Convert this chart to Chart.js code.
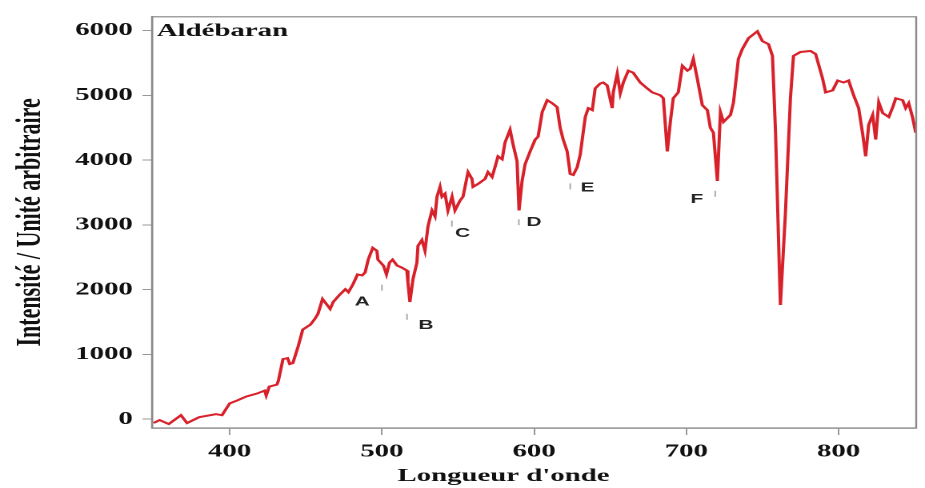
<!DOCTYPE html>
<html>
<head>
<meta charset="utf-8">
<script src="https://cdn.jsdelivr.net/npm/chart.js@4.4.1/dist/chart.umd.min.js"></script>
<style>
  html, body { margin: 0; padding: 0; background: #fff; overflow: hidden; }
  /* the reference picture is stretched sideways, so the chart is drawn narrow and widened */
  #wrap { position: absolute; left: 0; top: 0; width: 578px; height: 488px;
          transform: scaleX(1.6003); transform-origin: 0 0; }
</style>
</head>
<body>
<div id="wrap"><canvas id="spectre"></canvas></div>
<script>
// spectre d'Aldébaran
const wavelength = [350, 354, 360, 368, 372, 380, 391, 395, 400, 405, 411, 418, 423, 424, 426, 431, 432, 435, 438,
  439.5, 441.5, 445, 448, 453, 456, 458, 461, 464, 466, 468, 472, 476, 478, 481, 484, 487, 489, 491, 494, 496.7,
  497.4, 501, 503, 505, 507, 510, 513, 516.4, 517.1, 518.4, 520.4, 523, 523.7, 526.3, 528.3, 530.3, 532.9, 534.9,
  536.2, 538.2, 539.5, 541.5, 543.4, 546.1, 548, 551.3, 553.3, 556.6, 559.2, 559.9, 563.2, 567.8, 569.7, 572.4,
  574.3, 576.3, 579, 580.9, 584.2, 586.2, 588.8, 590.1, 592.1, 594.1, 597.4, 600.7, 602.6, 605.3, 608.6, 611.8,
  615.1, 617.1, 619.1, 621.7, 623.7, 625.7, 628.3, 630.3, 633.6, 635.6, 638.2, 640.1, 643.4, 645.4, 648, 651.3,
  652, 654.6, 656.6, 658.6, 661.9, 665.1, 669.7, 674.3, 677.6, 682.9, 684.9, 687.5, 689.5, 691.4, 694.7, 697.4,
  700.7, 702.6, 704.6, 707.2, 710.5, 713.8, 715.8, 717.8, 720.4, 722.4, 724.4, 729, 731, 734.2, 736.8, 740.8,
  746.7, 750, 754, 756.6, 758.6, 761.8, 765.1, 768.4, 770.4, 775, 781.6, 784.9, 789.5, 791.5, 796.1, 799.4,
  803.3, 806.6, 809.9, 813.2, 815.9, 817.8, 819.8, 822.4, 824.4, 826.4, 829, 833, 835.6, 837.6, 842.1, 844.1,
  846.1, 848.7, 850.7];
const intensity = [-60, -15, -76, 61, -61, 30, 76, 61, 243, 289, 350, 395, 441, 365, 502, 532, 593, 927, 942,
  851, 866, 1125, 1383, 1459, 1550, 1626, 1854, 1763, 1702, 1809, 1915, 2006, 1961, 2082, 2234, 2219, 2265, 2462, 2645, 2599,
  2462, 2371, 2234, 2417, 2462, 2371, 2341, 2295, 2113, 1809, 2158, 2417, 2675, 2766, 2599, 2979, 3222, 3131,
  3435, 3587, 3435, 3481, 3222, 3435, 3222, 3374, 3435, 3815, 3709, 3587, 3633, 3709, 3815, 3739,
  3891, 4058, 4013, 4271, 4469, 4241, 3982, 3222, 3678, 3937, 4134, 4317, 4362, 4742, 4925, 4879,
  4818, 4499, 4317, 4134, 3785, 3770, 3891, 4089, 4666, 4803, 4773, 5107, 5183, 5198, 5153, 4803,
  5046, 5335, 5031, 5198, 5381, 5350, 5198, 5107, 5046, 5001, 4955, 4134, 4590, 4955, 5046, 5457,
  5381, 5411, 5563, 5259, 4849, 4773, 4499, 4423, 3678, 4742, 4590, 4697, 4894, 5563, 5715, 5882,
  5989, 5837, 5791, 5609, 4438, 1763, 3177, 4955, 5609, 5670, 5685, 5639, 5259, 5046, 5077, 5229,
  5198, 5229, 5001, 4803, 4393, 4058, 4545, 4697, 4317, 4894, 4727, 4666, 4818, 4955, 4925, 4803,
  4879, 4651, 4423];

const xTicks = [400, 500, 600, 700, 800];
const yTicks = [0, 1000, 2000, 3000, 4000, 5000, 6000];

// raies repérées
const lineLabels = ["A", "B", "C", "D", "E", "F"];
const labelX = [487, 529, 553, 600, 635, 707];
const labelY = [1810, 1445, 2870, 3040, 3570, 3390];
const markX = [500, 516.5, 546, 590, 623.7, 719];
const markY = [2030, 1580, 3020, 3040, 3595, 3480];

const serif = "'Liberation Serif', 'DejaVu Serif', serif";
const sans = "'Liberation Sans', Arial, sans-serif";

const decor = {
  id: "decor",
  afterDatasetsDraw(chart) {
    const {ctx, chartArea: a, scales: {x, y}} = chart;
    ctx.save();
    // cadre
    ctx.strokeStyle = "#8a8a8a";
    ctx.lineWidth = 1.2;
    ctx.strokeRect(a.left, a.top, a.right - a.left, a.bottom - a.top);

    ctx.fillStyle = "#111";
    ctx.font = "bold 18px " + serif;
    ctx.textAlign = "left";
    ctx.textBaseline = "alphabetic";
    ctx.fillText("Aldébaran", a.left + 3, a.top + 19);

    // petits traits des raies
    ctx.strokeStyle = "#aaa";
    ctx.lineWidth = 1;
    markX.forEach((v, i) => {
      const px = x.getPixelForValue(v), py = y.getPixelForValue(markY[i]);
      ctx.beginPath();
      ctx.moveTo(px, py - 3);
      ctx.lineTo(px, py + 3);
      ctx.stroke();
    });

    ctx.fillStyle = "#222";
    ctx.font = "bold 13px " + sans;
    ctx.textAlign = "center";
    ctx.textBaseline = "middle";
    lineLabels.forEach((t, i) => {
      ctx.fillText(t, x.getPixelForValue(labelX[i]), y.getPixelForValue(labelY[i]));
    });

    // titre de l'axe x (décalé à gauche comme sur l'original)
    ctx.fillStyle = "#111";
    ctx.font = "bold 18px " + serif;
    ctx.textBaseline = "alphabetic";
    ctx.fillText("Longueur d'onde", a.left + (a.right - a.left) * 0.46, 481);
    ctx.restore();
  }
};

const tickFont = {family: serif, weight: "bold", size: 18};

new Chart(document.getElementById("spectre"), {
  type: "line",
  data: {
    datasets: [{
      data: wavelength.map((w, i) => ({x: w, y: intensity[i]})),
      borderColor: "#d8222b",
      borderWidth: 2,
      pointRadius: 0,
      tension: 0,
      fill: false
    }]
  },
  options: {
    responsive: true,
    maintainAspectRatio: false,
    animation: false,
    devicePixelRatio: 2,
    layout: {padding: {top: 10, right: 5.5, left: 0, bottom: 0}},
    plugins: {legend: {display: false}, tooltip: {enabled: false}},
    scales: {
      x: {
        type: "linear",
        min: 349,
        max: 851,
        afterBuildTicks: s => { s.ticks = xTicks.map(v => ({value: v})); },
        afterFit: s => { s.height = 60; },
        ticks: {font: tickFont, color: "#111", padding: 6, maxRotation: 0, autoSkip: false,
                callback: v => String(v)},
        grid: {drawOnChartArea: false, drawTicks: true, tickLength: 7, color: "#999"},
        border: {color: "#8a8a8a", width: 1.2}
      },
      y: {
        min: -137,
        max: 6213,
        afterBuildTicks: s => { s.ticks = yTicks.map(v => ({value: v})); },
        afterFit: s => { s.width = 95; },
        ticks: {font: tickFont, color: "#111", padding: 6, autoSkip: false,
                callback: v => String(v)},
        grid: {drawOnChartArea: false, drawTicks: true, tickLength: 6, color: "#999"},
        border: {color: "#8a8a8a", width: 1.2},
        title: {
          display: true,
          text: "Intensité / Unité arbitraire",
          color: "#111",
          font: {family: serif, weight: "bold", size: 22},
          padding: {top: 6, bottom: 0}
        }
      }
    }
  },
  plugins: [decor]
});
</script>
</body>
</html>
